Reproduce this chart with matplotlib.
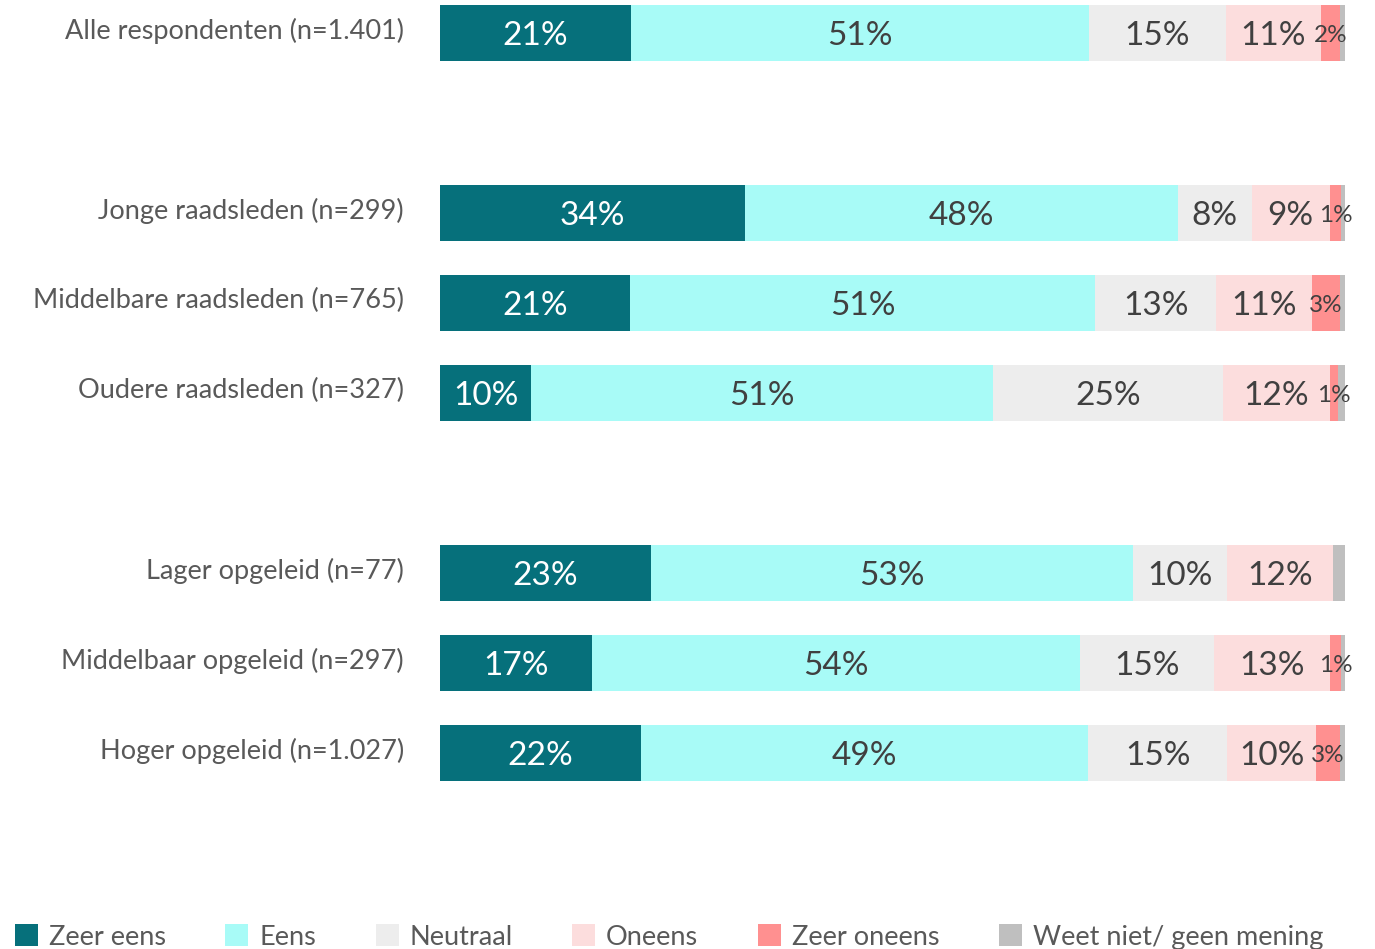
import matplotlib
matplotlib.use("Agg")
import matplotlib.pyplot as plt
from matplotlib.patches import Patch
from matplotlib.transforms import ScaledTranslation

plt.rcParams['font.family'] = ['Lato', 'DejaVu Sans']

# rows (empty strings are spacer rows)
categories = [
    "Alle respondenten (n=1.401)",
    "",
    "Jonge raadsleden (n=299)",
    "Middelbare raadsleden (n=765)",
    "Oudere raadsleden (n=327)",
    "",
    "Lager opgeleid (n=77)",
    "Middelbaar opgeleid (n=297)",
    "Hoger opgeleid (n=1.027)",
]

series_names = ["Zeer eens", "Eens", "Neutraal", "Oneens", "Zeer oneens",
                "Weet niet/ geen mening"]

# percentages per row (None = spacer row)
zeer_eens   = [21.1, None, 33.7, 21.0, 10.1, None, 23.3, 16.8, 22.2]
eens        = [50.6, None, 47.8, 51.4, 51.0, None, 53.3, 53.9, 49.4]
neutraal    = [15.1, None, 8.2, 13.4, 25.4, None, 10.4, 14.8, 15.4]
oneens      = [10.6, None, 8.6, 10.6, 11.8, None, 11.7, 12.8, 9.8]
zeer_oneens = [2.1, None, 1.3, 3.0, 0.9, None, 0.0, 1.3, 2.6]
weet_niet   = [0.5, None, 0.4, 0.6, 0.8, None, 1.3, 0.4, 0.6]

colors = ["#06707B", "#A8FBF7", "#EDEDED", "#FCDDDD", "#FF9090", "#BFBFBF"]
label_colors = ["white", "#404040", "#404040", "#404040", "#404040", None]

series = [zeer_eens, eens, neutraal, oneens, zeer_oneens, weet_niet]

fig = plt.figure(figsize=(13.75, 9.49), dpi=100)
ax = fig.add_axes([440 / 1375, 1 - 798 / 949, 905 / 1375, 798 / 949])

rows = [i for i, c in enumerate(categories) if c]
left = [0.0] * len(categories)
for vals, col, lc in zip(series, colors, label_colors):
    ys = [i for i in rows]
    ws = [vals[i] for i in rows]
    ls = [left[i] for i in rows]
    ax.barh(ys, ws, left=ls, height=0.62, color=col, edgecolor='none')
    if lc is not None:
        for y, w, l in zip(ys, ws, ls):
            if w < 0.5:
                continue
            small = w < 4
            ax.text(l + w / 2, y, f"{round(w)}%", ha='center',
                    va='center_baseline', color=lc,
                    fontsize=17.5 if small else 24)
    for i in rows:
        left[i] += vals[i]

ax.set_ylim(8.5, -0.367)
ax.set_xlim(0, 100)
ax.set_yticks(rows)
ax.set_yticklabels([categories[i] for i in rows], fontsize=19.5, color="#595959")
ax.tick_params(axis='y', length=0, pad=26)
# labels sit a bit above the bar centre in the original
for lbl in ax.get_yticklabels():
    lbl.set_transform(lbl.get_transform() + ScaledTranslation(0, 0.05, fig.dpi_scale_trans))
ax.set_xticks([])
for s in ax.spines.values():
    s.set_visible(False)

handles = [Patch(facecolor=c, edgecolor='none') for c in colors]
leg = fig.legend(handles, series_names, loc='center left', ncol=6,
                 bbox_to_anchor=(15 / 1375, 1 - 937 / 949), frameon=False,
                 fontsize=19.5, handlelength=0.85, handleheight=0.85,
                 handletextpad=0.4, columnspacing=2.2, borderpad=0,
                 borderaxespad=0)
for t in leg.get_texts():
    t.set_color("#595959")

fig.savefig("out.png", dpi=100)
